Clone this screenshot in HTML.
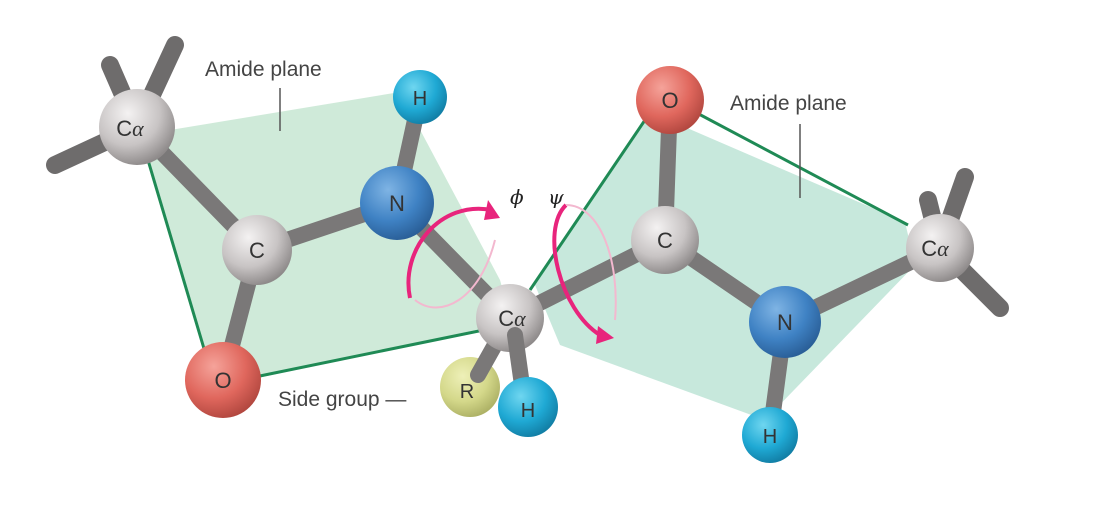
<!DOCTYPE html>
<html><head><meta charset="utf-8"><style>
html,body{margin:0;padding:0;background:#fff;}
svg{display:block;font-family:"Liberation Sans",sans-serif;}
</style></head><body>
<svg width="1100" height="522" viewBox="0 0 1100 522" xmlns="http://www.w3.org/2000/svg">
<defs>
<radialGradient id="gC" cx="0.38" cy="0.32" r="0.7"><stop offset="0" stop-color="#f4f2f2"/><stop offset="0.6" stop-color="#c8c4c4"/><stop offset="1" stop-color="#8e8a8a"/></radialGradient>
<radialGradient id="gN" cx="0.38" cy="0.32" r="0.7"><stop offset="0" stop-color="#7fb4e4"/><stop offset="0.6" stop-color="#3f82c4"/><stop offset="1" stop-color="#2a5f98"/></radialGradient>
<radialGradient id="gH" cx="0.38" cy="0.32" r="0.7"><stop offset="0" stop-color="#6fd6f0"/><stop offset="0.6" stop-color="#1fa9d4"/><stop offset="1" stop-color="#127fa6"/></radialGradient>
<radialGradient id="gO" cx="0.38" cy="0.32" r="0.7"><stop offset="0" stop-color="#f5a39a"/><stop offset="0.6" stop-color="#e0675d"/><stop offset="1" stop-color="#b34840"/></radialGradient>
<radialGradient id="gR" cx="0.38" cy="0.32" r="0.7"><stop offset="0" stop-color="#eef0b8"/><stop offset="0.6" stop-color="#d4d88a"/><stop offset="1" stop-color="#aeb266"/></radialGradient>
</defs>
<g stroke="#6e6c6c" stroke-width="18" stroke-linecap="round">
<line x1="137" y1="127" x2="110" y2="65"/>
<line x1="137" y1="127" x2="55" y2="165"/>
<line x1="137" y1="127" x2="175" y2="45"/>
<line x1="940" y1="248" x2="928" y2="200"/>
<line x1="940" y1="248" x2="965" y2="177"/>
<line x1="940" y1="248" x2="1000" y2="308"/>
</g>
<polygon points="140,135 400,92 500,280 512,322 240,382 205,355" fill="#bfe3cc" opacity="0.75"/>
<polygon points="535,285 650,112 905,222 915,265 765,420 560,345" fill="#b4e0d0" opacity="0.75"/>
<g stroke="#1f8a55" stroke-width="3" fill="none">
<line x1="145" y1="150" x2="205" y2="352"/>
<line x1="250" y1="378" x2="508" y2="325"/>
<line x1="530" y1="290" x2="645" y2="120"/>
<line x1="695" y1="112" x2="908" y2="225"/>
</g>
<g stroke="#7a7878" stroke-width="16" stroke-linecap="round">
<line x1="137" y1="127" x2="257" y2="250"/>
<line x1="257" y1="250" x2="397" y2="203"/>
<line x1="257" y1="250" x2="223" y2="380"/>
<line x1="397" y1="203" x2="420" y2="97"/>
<line x1="397" y1="203" x2="510" y2="318"/>
<line x1="510" y1="318" x2="665" y2="240"/>
<line x1="665" y1="240" x2="670" y2="100"/>
<line x1="665" y1="240" x2="785" y2="322"/>
<line x1="785" y1="322" x2="940" y2="248"/>
<line x1="785" y1="322" x2="770" y2="435"/>
</g>
<g fill="none" stroke="#e8247c" stroke-width="4">
<path d="M410,298 C400,250 440,200 492,210"/>
<path d="M566,205 C540,230 560,310 600,335"/>
</g>
<g fill="none" stroke="#f3b8cf" stroke-width="2">
<path d="M415,300 C440,320 480,300 495,240"/>
<path d="M566,205 C600,205 620,260 615,320"/>
</g>
<polygon points="488,200 500,218 484,220" fill="#e8247c"/>
<polygon points="598,326 614,338 596,344" fill="#e8247c"/>
<circle cx="137" cy="127" r="38" fill="url(#gC)"/>
<circle cx="257" cy="250" r="35" fill="url(#gC)"/>
<circle cx="397" cy="203" r="37" fill="url(#gN)"/>
<circle cx="420" cy="97" r="27" fill="url(#gH)"/>
<circle cx="223" cy="380" r="38" fill="url(#gO)"/>
<circle cx="470" cy="387" r="30" fill="url(#gR)"/>
<line x1="510" y1="318" x2="478" y2="375" stroke="#7a7878" stroke-width="16" stroke-linecap="round"/>
<circle cx="510" cy="318" r="34" fill="url(#gC)"/>
<line x1="515" y1="335" x2="522" y2="385" stroke="#7a7878" stroke-width="16" stroke-linecap="round"/>
<circle cx="528" cy="407" r="30" fill="url(#gH)"/>
<circle cx="670" cy="100" r="34" fill="url(#gO)"/>
<circle cx="665" cy="240" r="34" fill="url(#gC)"/>
<circle cx="785" cy="322" r="36" fill="url(#gN)"/>
<circle cx="770" cy="435" r="28" fill="url(#gH)"/>
<circle cx="940" cy="248" r="34" fill="url(#gC)"/>
<g fill="#333" font-size="22" text-anchor="middle">
<text x="130" y="136">C<tspan font-family="Liberation Serif" font-style="italic">α</tspan></text>
<text x="257" y="258">C</text>
<text x="397" y="211">N</text>
<text x="420" y="105" font-size="20">H</text>
<text x="223" y="388">O</text>
<text x="467" y="398" font-size="20">R</text>
<text x="512" y="326">C<tspan font-family="Liberation Serif" font-style="italic">α</tspan></text>
<text x="528" y="417" font-size="20">H</text>
<text x="670" y="108">O</text>
<text x="665" y="248">C</text>
<text x="785" y="330">N</text>
<text x="770" y="443" font-size="20">H</text>
<text x="935" y="256">C<tspan font-family="Liberation Serif" font-style="italic">α</tspan></text>
</g>
<g fill="#444" font-size="21">
<text x="205" y="76">Amide plane</text>
<text x="730" y="110">Amide plane</text>
<text x="278" y="406">Side group —</text>
</g>
<g stroke="#555" stroke-width="1.5">
<line x1="280" y1="88" x2="280" y2="131"/>
<line x1="800" y1="124" x2="800" y2="198"/>
</g>
<g fill="#222" font-family="DejaVu Serif" font-style="italic" font-size="20">
<text x="510" y="204">ϕ</text>
<text x="548" y="204">ψ</text>
</g>
</svg>
</body></html>
